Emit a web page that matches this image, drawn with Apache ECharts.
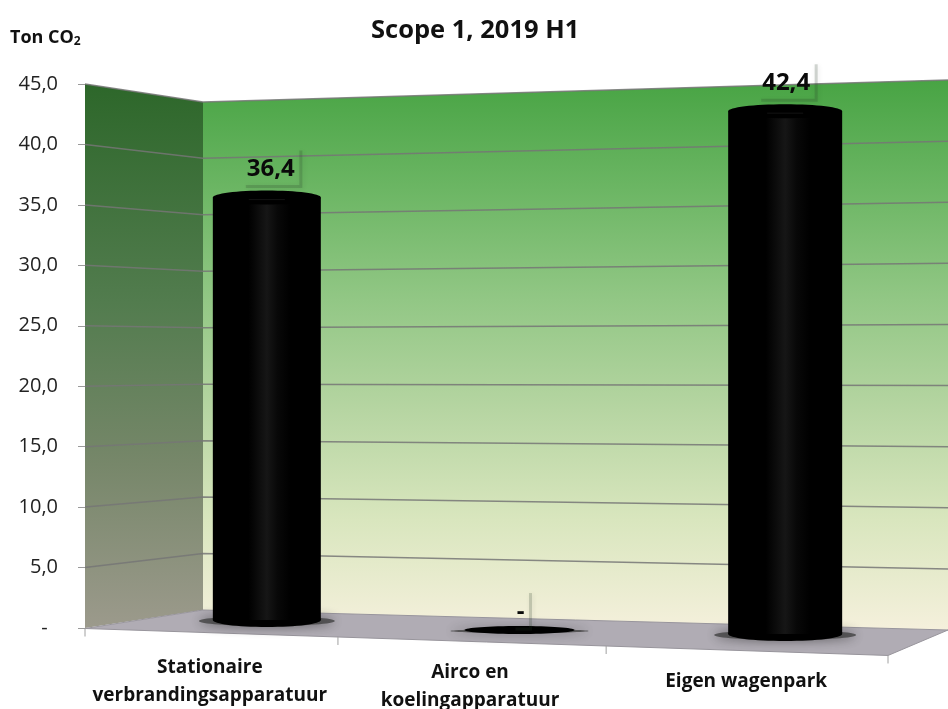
<!DOCTYPE html>
<html><head><meta charset="utf-8">
<style>html,body{margin:0;padding:0;background:#fff}#c{width:948px;height:709px}</style>
<script src="https://cdn.jsdelivr.net/npm/echarts@6/dist/echarts.min.js"></script>
</head><body><div id="c"></div>
<script>
const categories = ['Stationaire\nverbrandingsapparatuur', 'Airco en\nkoelingapparatuur', 'Eigen wagenpark'];
const values = [36.4, 0, 42.4];
const yTicks = [0, 5, 10, 15, 20, 25, 30, 35, 40, 45];
const titleText = 'Scope 1, 2019 H1';

const FONT = '"Open Sans","Noto Sans",sans-serif';
const fmt = v => v === 0 ? '-' : v.toFixed(1).replace('.', ',');

// perspective layout of the 3D scene (not data)
const depth = [
  {dx: 48, base: -8, scale: 0.96, rx: 54, ry: 7, lx: 4},
  {dx: 33, base: 2, scale: 1.0, rx: 55, ry: 4, lx: 1},
  {dx: 31, base: 6, scale: 1.02, rx: 57, ry: 7, lx: 1}
];
const floorTicks = [0, 0.315, 0.649, 1];

const chart = echarts.init(document.getElementById('c'), null, {renderer: 'canvas'});

function renderScene(params, api) {
  const v = api.value(1);
  const sys = params.coordSys;
  const y0 = api.coord([0, 0])[1];
  const yF = api.coord([0, v])[1];
  const L = sys.x, R = sys.x + sys.width, W = api.getWidth(), BL = L + 118;
  const backL = t => y0 - 18 - (y0 - t) * 0.934;
  const backR = t => y0 + 2 - (y0 - t) * 1.011;
  const kids = [];
  const lineStyle = {stroke: 'rgba(118,118,118,0.85)', lineWidth: 1.5, fill: 'none'};
  if (params.dataIndex === 0) {
    const yTop = api.coord([0, yTicks[yTicks.length - 1]])[1];
    kids.push({type: 'polygon', z2: 1, shape: {points: [[BL, backL(yTop)], [W, backR(yTop)], [W, backR(y0)], [BL, backL(y0)]]},
      style: {fill: new echarts.graphic.LinearGradient(0, 0, 0, 1, [
        {offset: 0, color: '#48a444'}, {offset: 0.2, color: '#6cb664'},
        {offset: 0.4, color: '#92c785'}, {offset: 0.6, color: '#b6d5a2'},
        {offset: 0.8, color: '#d9e6be'}, {offset: 1, color: '#f5f0dc'}])}});
    kids.push({type: 'polygon', z2: 1, shape: {points: [[L, yTop], [BL, backL(yTop)], [BL, backL(y0)], [L, y0]]},
      style: {fill: new echarts.graphic.LinearGradient(0, 0, 0, 1, [
        {offset: 0, color: '#2d672a'}, {offset: 0.4, color: '#527c4e'},
        {offset: 0.7, color: '#77876a'}, {offset: 1, color: '#9c9a8c'}])}});
    const frontY = x => y0 + 0.5 + (x - L) * 0.0336;
    kids.push({type: 'polygon', z2: 2, shape: {points: [[L, y0 + 0.5], [BL, backL(y0)], [W, backR(y0)], [R, frontY(R)]]},
      style: {fill: '#b0acb4', stroke: '#98959c', lineWidth: 1}});
    floorTicks.forEach(f => {
      const x = L + f * (R - L);
      kids.push({type: 'line', z2: 2, shape: {x1: x, y1: frontY(x), x2: x, y2: frontY(x) + 8}, style: {stroke: '#a0a0a0', lineWidth: 1}});
    });
  } else {
    kids.push({type: 'polyline', z2: 3, shape: {points: [[L, yF], [BL, backL(yF)], [W, backR(yF)]]}, style: lineStyle});
  }
  return {type: 'group', children: kids};
}

function renderBar(params, api) {
  const i = params.dataIndex, d = depth[i], v = api.value(1);
  const c = api.coord([i, v]), c0 = api.coord([i, 0]);
  const cx = c0[0] + d.dx, yb = c0[1] + d.base;
  const yt = yb - (c0[1] - c[1]) * d.scale;
  const rx = d.rx, ry = d.ry;
  const kids = [
    {type: 'ellipse', shape: {cx, cy: yb + 1, rx: rx + 14, ry: ry - 2},
      style: {fill: 'rgba(60,60,60,0.75)', shadowBlur: 12, shadowColor: 'rgba(30,30,30,0.85)'}},
    {type: 'ellipse', shape: {cx, cy: yb, rx, ry}, style: {fill: '#000'}}
  ];
  if (v > 0) {
    kids.push({type: 'rect', shape: {x: cx - rx, y: yt, width: 2 * rx, height: yb - yt},
      style: {fill: new echarts.graphic.LinearGradient(0, 0, 1, 0, [
        {offset: 0, color: '#000'}, {offset: 0.33, color: '#000'}, {offset: 0.5, color: '#161616'},
        {offset: 0.6, color: '#080808'}, {offset: 0.72, color: '#000'}, {offset: 1, color: '#000'}])}});
    kids.push({type: 'ellipse', shape: {cx, cy: yt, rx, ry}, style: {fill: '#000'}});
    kids.push({type: 'line', shape: {x1: cx - 18, y1: yt + ry - 5, x2: cx + 18, y2: yt + ry - 5}, style: {stroke: '#131313', lineWidth: 1}});
  }
  const lx = cx + d.lx, capTop = yt - ry;
  const ly = capTop - 21 + (v > 0 ? 0 : 7);
  const hw = v > 0 ? 30 : 10, top = ly - 21, bot = ly + 17;
  kids.push({type: 'polyline', shape: {points: [[lx - hw + 5, bot], [lx + hw, bot], [lx + hw, top + 2]]},
    style: {fill: 'none', stroke: 'rgba(40,60,40,0.2)', lineWidth: 3, shadowBlur: 5, shadowColor: 'rgba(0,0,0,0.4)', shadowOffsetX: 1, shadowOffsetY: 1}});
  kids.push({type: 'text', style: {text: fmt(v), x: lx, y: ly, align: 'center', verticalAlign: 'middle',
    font: 'bold 24px ' + FONT, fill: '#0a0a0a'}});
  return {type: 'group', children: kids};
}

chart.setOption({
  animation: false,
  backgroundColor: '#fff',
  title: [
    {text: titleText, left: 366, top: 13, textStyle: {fontFamily: FONT, fontSize: 25.5, fontWeight: 'bold', color: '#111'}},
    {text: '{a|Ton CO}{b|2}', left: 5, top: 23, textStyle: {rich: {
      a: {fontFamily: FONT, fontSize: 18, fontWeight: 'bold', color: '#111'},
      b: {fontFamily: FONT, fontSize: 12, fontWeight: 'bold', color: '#111', padding: [8, 0, 0, 0]}}}}
  ],
  grid: {left: 85, right: 60, top: 84, bottom: 81, outerBoundsMode: 'none'},
  xAxis: {
    type: 'category', data: categories, boundaryGap: true,
    axisLine: {show: false}, axisTick: {show: false}, z: 6,
    axisLabel: {
      interval: 0, margin: 26, color: '#111', hideOverlap: false,
      formatter: (val, idx) => val.split('\n').map(s => `{c${idx}|${s}}`).join('\n'),
      rich: {
        c0: {fontFamily: FONT, fontSize: 19, fontWeight: 'bold', lineHeight: 28, color: '#111', padding: [0, 18, 0, 0]},
        c1: {fontFamily: FONT, fontSize: 19, fontWeight: 'bold', lineHeight: 28, color: '#111', padding: [10, 33, 0, 0]},
        c2: {fontFamily: FONT, fontSize: 19, fontWeight: 'bold', lineHeight: 28, color: '#111', padding: [27, 16, 0, 0]}
      }
    }
  },
  yAxis: {
    type: 'value', min: 0, max: 45, interval: 5, z: 6,
    axisLine: {show: false},
    axisTick: {show: true, length: 7, lineStyle: {color: '#9a9a9a'}},
    splitLine: {show: false},
    axisLabel: {margin: 27, padding: [4, 0, 0, 0], formatter: v => v === 0 ? '-\u00A0\u00A0' : fmt(v), fontFamily: FONT, fontSize: 20, color: '#222'}
  },
  series: [
    {type: 'custom', name: 'walls', z: 1, silent: true, renderItem: renderScene, encode: {x: 0, y: 1},
     data: yTicks.map(t => [0, t])},
    {type: 'custom', name: 'Scope 1', z: 3, renderItem: renderBar, encode: {x: 0, y: 1},
     data: values.map((v, i) => [i, v])}
  ]
});
</script></body></html>
